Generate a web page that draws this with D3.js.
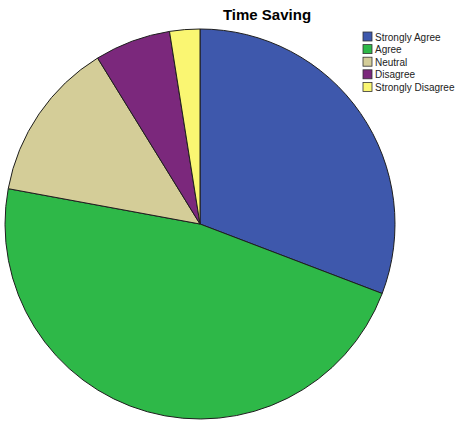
<!DOCTYPE html>
<html>
<head>
<meta charset="utf-8">
<script src="https://cdn.jsdelivr.net/npm/d3@7"></script>
<style>
  html, body { margin: 0; padding: 0; background: #fff; }
  svg { display: block; }
</style>
</head>
<body>
<svg id="chart" width="459" height="421"></svg>
<script>
// Survey responses for "Time Saving" (percent of respondents)
const categories = ["Strongly Agree", "Agree", "Neutral", "Disagree", "Strongly Disagree"];
const values = [30.8, 47.1, 13.3, 6.3, 2.5];
const colors = ["#3e58ac", "#2eb848", "#d4cd98", "#7b287c", "#faf672"];

const svg = d3.select("#chart");
const cx = 200, cy = 224, radius = 195;

svg.append("text")
  .attr("x", 267).attr("y", 20)
  .attr("text-anchor", "middle")
  .attr("font-family", "Liberation Sans, Arial, sans-serif")
  .attr("font-weight", "bold")
  .attr("font-size", 15)
  .text("Time Saving");

const data = categories.map((c, i) => ({ category: c, value: values[i] }));
const color = d3.scaleOrdinal().domain(categories).range(colors);

const pie = d3.pie().sort(null).value(d => d.value);
const arc = d3.arc().innerRadius(0).outerRadius(radius);

svg.append("g")
  .attr("transform", `translate(${cx},${cy})`)
  .selectAll("path")
  .data(pie(data))
  .join("path")
  .attr("d", arc)
  .attr("fill", d => color(d.data.category))
  .attr("stroke", "#1e1e1e")
  .attr("stroke-width", 1);

// Legend
const legend = svg.append("g").attr("transform", "translate(363,32)");
const rows = legend.selectAll("g")
  .data(categories)
  .join("g")
  .attr("transform", (d, i) => `translate(0,${i * 12.6})`);
rows.append("rect")
  .attr("width", 9).attr("height", 9)
  .attr("fill", d => color(d))
  .attr("stroke", "#333").attr("stroke-width", 0.8);
rows.append("text")
  .attr("x", 12).attr("y", 8.5)
  .attr("font-family", "Liberation Sans, Arial, sans-serif")
  .attr("font-size", 10)
  .attr("fill", "#222")
  .text(d => d);
</script>
</body>
</html>
